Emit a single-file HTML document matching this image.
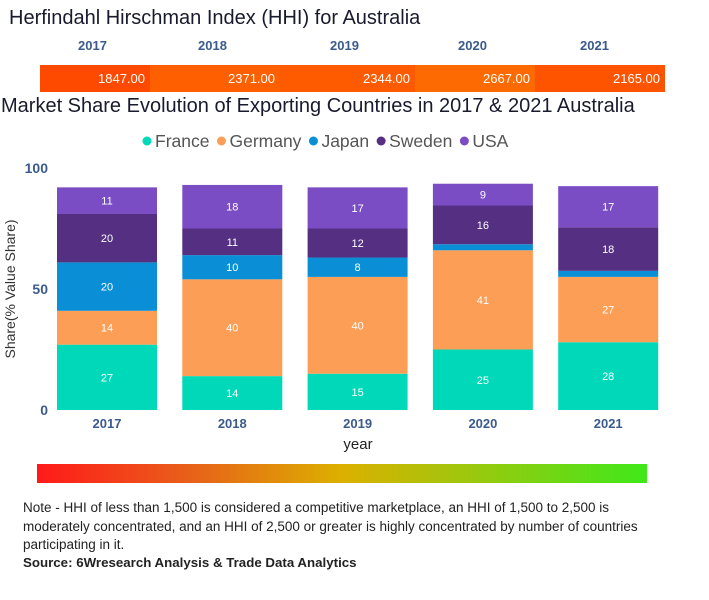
<!DOCTYPE html>
<html><head><meta charset="utf-8"><style>
body{margin:0;width:709px;height:600px;background:#fff;font-family:"Liberation Sans",sans-serif;position:relative;overflow:hidden}
.t{position:absolute;white-space:nowrap}
</style></head><body>
<div class="t" style="left:9px;top:7px;font-size:20px;color:#1a1a2e">Herfindahl Hirschman Index (HHI) for Australia</div>
<div id="hhi"></div>
<div class="t" style="left:1px;top:95px;font-size:20px;color:#1a1a2e">Market Share Evolution of Exporting Countries in 2017 &amp; 2021 Australia</div>
<svg id="chart" width="709" height="460" style="position:absolute;left:0;top:0"></svg>
<div style="position:absolute;left:37px;top:464px;width:610px;height:19px;background:linear-gradient(90deg,#ff1a1a,#e8601a 25%,#dcb000 50%,#90cc10 75%,#3fe81a)"></div>
<div style="position:absolute;left:23px;top:499px;width:635px;font-size:13.5px;line-height:18.5px;color:#222">Note - HHI of less than 1,500 is considered a competitive marketplace, an HHI of 1,500 to 2,500 is<br>moderately concentrated, and an HHI of 2,500 or greater is highly concentrated by number of countries<br>participating in it.</div>
<div class="t" style="left:23px;top:555px;font-size:13.3px;font-weight:bold;color:#222">Source: 6Wresearch Analysis &amp; Trade Data Analytics</div>
<script>
const years=["2017","2018","2019","2020","2021"];
const hhiValues=["1847.00","2371.00","2344.00","2667.00","2165.00"];
const seriesNames=["France","Germany","Japan","Sweden","USA"];
const france=[27,14,15,25,28];
const germany=[14,40,40,41,27];
const japan=[20,10,8,2.5,2.5];
const sweden=[20,11,12,16,18];
const usa=[11,18,17,9,17];
const yTicks=[0,50,100];
const colors=["#00d9b9","#fd9e56","#0a8fd6","#542f82","#7a4dc4"];
const series=[france,germany,japan,sweden,usa];
const NS="http://www.w3.org/2000/svg";
const hhi=document.getElementById('hhi');
const segX=[40,150,280,415,535,665];
const segC=["#fd4a00","#fe5f00","#fe5a00","#fe6a02","#fe5400"];
years.forEach((y,i)=>{
 const h=document.createElement('div');
 
 
 h.className='t';h.textContent=y;
 h.style.cssText=`left:${[78,198,330,458,580][i]}px;top:38px;font-size:13px;font-weight:bold;color:#3b5b8c`;
 hhi.appendChild(h);
 const s=document.createElement('div');
 
 
 s.textContent=hhiValues[i];
 s.style.cssText=`position:absolute;left:${segX[i]}px;top:65px;width:${segX[i+1]-segX[i]-5}px;height:27px;padding-right:5px;background:${segC[i]};color:#fff;font-size:13px;text-align:right;line-height:27px`;
 hhi.appendChild(s);
});
const svg=document.getElementById('chart');
const y0=410,scale=2.42;
const yPos=v=>y0-v*scale;
const barX=i=>57+i*125.3;
const bw=100;
function el(t,a,txt){const e=document.createElementNS(NS,t);for(const k in a)e.setAttribute(k,a[k]);if(txt!==undefined)e.textContent=txt;svg.appendChild(e);return e;}
let lx=147;
seriesNames.forEach((n,i)=>{
 const c=el('circle',{cx:lx,cy:141,r:4.5,fill:colors[i]});
 
 
 const t=el('text',{x:lx+8,y:147,'font-size':17.5,fill:'#555','font-family':'Liberation Sans, sans-serif'},n);
 
 
 lx+=8+t.getComputedTextLength()+12;
});
yTicks.forEach(v=>{
 const t=el('text',{x:48,y:yPos(v)+5,'font-size':14,'font-weight':'bold',fill:'#3b5b8c','text-anchor':'end'},v);
 
 
});
const yt=el('text',{x:0,y:0,'font-size':14,fill:'#333','text-anchor':'middle',transform:`translate(15,${yPos(50)}) rotate(-90)`},'Share(% Value Share)');


years.forEach((y,i)=>{
 let acc=0;const x=barX(i);
 series.forEach((s,k)=>{
  const v=s[i];
  const r=el('rect',{x:x,y:yPos(acc+v),width:bw,height:v*scale,fill:colors[k]});
  
  
  if(v>=5){
   const t=el('text',{x:x+bw/2,y:yPos(acc+v/2)+4,'font-size':11,fill:'#fff','text-anchor':'middle'},Math.round(v));
   
   
  }
  acc+=v;
 });
 const t=el('text',{x:x+bw/2,y:428,'font-size':13,'font-weight':'bold',fill:'#3b5b8c','text-anchor':'middle'},y);
 
 
});
const xt=el('text',{x:358,y:449,'font-size':15,fill:'#222','text-anchor':'middle'},'year');


</script>
</body></html>
